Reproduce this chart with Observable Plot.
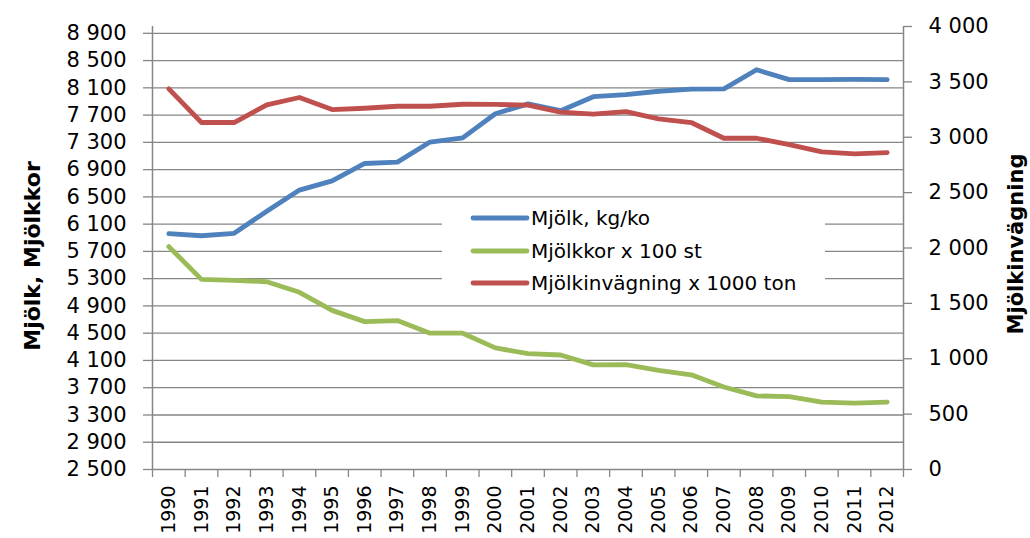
<!DOCTYPE html>
<html>
<head>
<meta charset="utf-8">
<script src="https://cdn.jsdelivr.net/npm/d3@7"></script>
<script src="https://cdn.jsdelivr.net/npm/@observablehq/plot@0.6"></script>
<style>
  html, body { margin: 0; padding: 0; background: #ffffff; }
  #chart { width: 1030px; height: 538px; position: relative; }
</style>
</head>
<body>
<div id="chart"></div>
<script>
// ---- data ----
const years = [1990, 1991, 1992, 1993, 1994, 1995, 1996, 1997, 1998, 1999, 2000, 2001,
               2002, 2003, 2004, 2005, 2006, 2007, 2008, 2009, 2010, 2011, 2012];
// Mjölk, kg/ko (left axis)
const milkPerCow = [5960, 5930, 5965, 6290, 6600, 6735, 6990, 7010, 7305, 7365, 7720, 7865,
                    7765, 7970, 8000, 8050, 8080, 8085, 8365, 8220, 8220, 8225, 8220];
// Mjölkkor x 100 st (left axis)
const dairyCows = [5770, 5290, 5275, 5255, 5100, 4835, 4670, 4685, 4500, 4500, 4285, 4200,
                   4180, 4035, 4040, 3955, 3890, 3710, 3580, 3570, 3490, 3475, 3490];
// Mjölkinvägning x 1000 ton (right axis)
const milkIntake = [3437, 3133, 3133, 3293, 3359, 3250, 3262, 3280, 3280, 3298, 3296, 3290,
                    3226, 3208, 3232, 3166, 3133, 2991, 2991, 2934, 2868, 2850, 2862];

const seriesNames = ["Mjölk, kg/ko", "Mjölkkor x 100 st", "Mjölkinvägning x 1000 ton"];
const seriesColors = ["#4F81BD", "#9BBB59", "#C0504D"];
const leftTicks = d3.range(2500, 8901, 400);
const rightTicks = d3.range(0, 4001, 500);
const leftTitle = "Mjölk, Mjölkkor";
const rightTitle = "Mjölkinvägning";

// ---- scales mapping for the secondary axis ----
const leftDomain = [2500, 9000];
const rightDomain = [0, 4000];
const k = (leftDomain[1] - leftDomain[0]) / (rightDomain[1] - rightDomain[0]);
const toLeft = r => leftDomain[0] + (r - rightDomain[0]) * k;
const fromLeft = v => Math.round((v - leftDomain[0]) / k + rightDomain[0]);
const fmt = v => d3.format(",")(v).replace(/,/g, " ");

const rows = [];
years.forEach((yr, i) => {
  rows.push({year: yr, value: milkPerCow[i], series: seriesNames[0]});
  rows.push({year: yr, value: dairyCows[i], series: seriesNames[1]});
  rows.push({year: yr, value: toLeft(milkIntake[i]), series: seriesNames[2]});
});
const boundaries = d3.range(years[0] - 0.5, years[years.length - 1] + 1, 1);
const gray = "#868686";

const W = 1030, H = 538;
const chart = Plot.plot({
  width: W,
  height: H,
  marginTop: 26,
  marginBottom: 69,
  marginLeft: 152,
  marginRight: 127,
  style: {fontFamily: "DejaVu Sans", fontSize: "21px", color: "#000", background: "#fff", overflow: "visible"},
  x: {type: "linear", domain: [boundaries[0], boundaries[boundaries.length - 1]]},
  y: {domain: leftDomain},
  color: {domain: seriesNames, range: seriesColors},
  marks: [
    Plot.gridY(leftTicks, {stroke: gray, strokeOpacity: 1, strokeWidth: 1.3}),
    Plot.ruleX([boundaries[0], boundaries[boundaries.length - 1]], {stroke: gray, strokeWidth: 1.5}),
    Plot.axisY(leftTicks, {anchor: "left", tickSize: 9, tickPadding: 17, stroke: gray, strokeWidth: 1.3, tickFormat: fmt, label: null}),
    Plot.axisY(rightTicks.map(toLeft), {anchor: "right", tickSize: 8, tickPadding: 17, stroke: gray, strokeWidth: 1.3, tickFormat: v => fmt(fromLeft(v)), label: null}),
    Plot.axisX(boundaries, {anchor: "bottom", tickSize: 8, stroke: gray, strokeWidth: 1.3, tickFormat: () => "", label: null}),
    Plot.axisX(years, {anchor: "bottom", tickSize: 0, tickPadding: 16, tickRotate: -90, fontSize: 19, tickFormat: d => String(d), label: null}),
    Plot.line(rows, {x: "year", y: "value", z: "series", stroke: "series", strokeWidth: 4.8, strokeLinejoin: "round", strokeLinecap: "round"})
  ]
});
document.getElementById("chart").appendChild(chart);

// ---- axis titles and legend ----
const svg = d3.select(chart);
svg.append("text")
  .attr("transform", "translate(32,256) rotate(-90)")
  .attr("text-anchor", "middle").attr("dominant-baseline", "central")
  .attr("font-family", "DejaVu Sans").attr("font-weight", "bold").attr("font-size", 22)
  .attr("fill", "#000").text(leftTitle);
svg.append("text")
  .attr("transform", "translate(1016,244) rotate(-90)")
  .attr("text-anchor", "middle").attr("dominant-baseline", "central")
  .attr("font-family", "DejaVu Sans").attr("font-weight", "bold").attr("font-size", 21)
  .attr("fill", "#000").text(rightTitle);

const lg = svg.append("g");
lg.append("rect").attr("x", 442).attr("y", 202).attr("width", 383).attr("height", 97).attr("fill", "#fff");
const legendY = [218, 251, 283];
seriesNames.forEach((name, i) => {
  lg.append("line").attr("x1", 473).attr("x2", 527).attr("y1", legendY[i]).attr("y2", legendY[i])
    .attr("stroke", seriesColors[i]).attr("stroke-width", 4.8).attr("stroke-linecap", "round");
  lg.append("text").attr("x", 531).attr("y", legendY[i]).attr("dominant-baseline", "central")
    .attr("text-anchor", "start")
    .attr("font-family", "DejaVu Sans").attr("font-size", 20).attr("fill", "#000").text(name);
});
</script>
</body>
</html>
